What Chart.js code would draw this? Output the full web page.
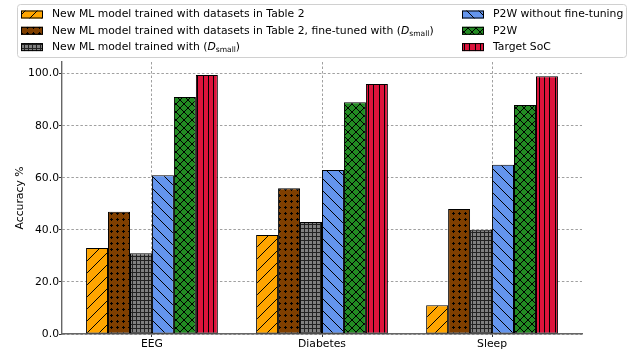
<!DOCTYPE html>
<html>
<head>
<meta charset="utf-8">
<script src="https://cdn.jsdelivr.net/npm/chart.js@4.4.1/dist/chart.umd.min.js"></script>
<style>
  html, body { margin: 0; padding: 0; background: #fff; }
  canvas { display: block; }
</style>
</head>
<body>
<canvas id="chart" width="630" height="352"></canvas>
<script>
// values
var categories = ['EEG', 'Diabetes', 'Sleep'];
var trainedTable2 = [33, 38, 11];
var fineTunedSmall = [47, 56, 48];
var trainedSmall = [31, 43, 40];
var p2wNoFineTune = [61, 63, 65];
var p2w = [91, 89, 88];
var targetSoC = [99.5, 96, 99];
var yTicks = [0, 20, 40, 60, 80, 100];

var FONT = 'DejaVu Sans';
var FS = 10.8;

var ctx = document.getElementById('chart').getContext('2d');

/** Builds a matplotlib-like hatch fill */
function hatch(color, kind) {
    var c = document.createElement('canvas');
    var d = { '/': 12, '\\': 12, 'x': 8, '|': 16, '+': 12, '.': 6 }[kind];
    c.width = d; c.height = d;
    var g = c.getContext('2d');
    g.fillStyle = color;
    g.fillRect(0, 0, d, d);
    g.strokeStyle = '#000';
    g.fillStyle = '#000';
    g.lineWidth = 1;
    g.beginPath();
    var k, i;
    if (kind === '/' || kind === 'x') {
        for (k = -1; k <= 1; k++) { g.moveTo(k * d, d); g.lineTo(k * d + d, 0); }
    }
    if (kind === '\\' || kind === 'x') {
        for (k = -1; k <= 1; k++) { g.moveTo(k * d, 0); g.lineTo(k * d + d, d); }
    }
    if (kind === '|' || kind === '+') {
        for (i = 0; i < 3; i++) {
            var p = Math.round(i * d / 3) + 0.5;
            g.moveTo(p, 0); g.lineTo(p, d);
            if (kind === '+') { g.moveTo(0, p); g.lineTo(d, p); }
        }
    }
    if (kind === '+') g.strokeStyle = '#222';
    g.stroke();
    if (kind === '.') {
        // small plus-shaped dot, like the rasterised matplotlib dots
        g.fillRect(2, 3, 3, 1);
        g.fillRect(3, 2, 1, 3);
    }
    return ctx.createPattern(c, 'repeat');
}

function points(values) {
    return values.map(function(v, i) { return { x: i, y: v }; });
}

var datasets = [
    { label: 'New ML model trained with datasets in Table 2', data: points(trainedTable2), backgroundColor: hatch('#ffa500', '/') },
    { label: 'New ML model trained with datasets in Table 2, fine-tuned with ($D_{small}$)', data: points(fineTunedSmall), backgroundColor: hatch('#7f3f00', '.') },
    { label: 'New ML model trained with ($D_{small}$)', data: points(trainedSmall), backgroundColor: hatch('#808080', '+') },
    { label: 'P2W without fine-tuning', data: points(p2wNoFineTune), backgroundColor: hatch('#6495ed', '\\') },
    { label: 'P2W', data: points(p2w), backgroundColor: hatch('#228b22', 'x') },
    { label: 'Target SoC', data: points(targetSoC), backgroundColor: hatch('#dc143c', '|') }
];
datasets.forEach(function(ds) {
    ds.borderColor = '#000';
    ds.borderWidth = 1;
    ds.borderSkipped = false;
});

/** Draws text, turning $D_{xxx}$ into an italic D with a subscript */
function drawRich(c, text, x, y) {
    var parts = text.split(/(\$D_\{\w+\}\$)/);
    c.textBaseline = 'middle';
    c.textAlign = 'left';
    parts.forEach(function(part) {
        var m = part.match(/^\$D_\{(\w+)\}\$$/);
        if (m) {
            c.font = 'italic ' + FS + 'px "' + FONT + '"';
            c.fillText('D', x, y);
            x += c.measureText('D').width;
            c.font = (FS * 0.7) + 'px "' + FONT + '"';
            c.fillText(m[1], x, y + 3);
            x += c.measureText(m[1]).width;
        } else {
            c.font = FS + 'px "' + FONT + '"';
            c.fillText(part, x, y);
            x += c.measureText(part).width;
        }
    });
}

var legendBox = {
    id: 'legendBox',
    afterDraw: function(chart) {
        var c = chart.ctx;
        c.save();
        c.beginPath();
        c.roundRect(17.5, 4.5, 609, 53, 3);
        c.fillStyle = 'rgba(255,255,255,0.8)';
        c.fill();
        c.strokeStyle = '#d0d0d0';
        c.lineWidth = 1;
        c.stroke();
        chart.data.datasets.forEach(function(ds, i) {
            var col = Math.floor(i / 3), row = i % 3;
            var hx = col ? 462 : 21;
            var cy = 14.5 + row * 16.3;
            c.fillStyle = ds.backgroundColor;
            c.fillRect(hx, cy - 4, 22, 8);
            c.strokeStyle = '#000';
            c.strokeRect(hx + 0.5, cy - 3.5, 21, 7);
            c.fillStyle = '#000';
            drawRich(c, ds.label, hx + 31, cy);
        });
        c.restore();
    }
};

var gridStyle = {
    offset: false,
    color: 'rgba(128,128,128,0.75)',
    lineWidth: 1,
    tickLength: 3,
    tickColor: '#333',
    tickWidth: 1,
    tickBorderDash: []
};
// in Chart.js v4 the grid-line dash lives on the border options
var borderStyle = { color: '#666', width: 1.4, dash: [2.5, 2] };

new Chart(ctx, {
    type: 'bar',
    data: { datasets: datasets },
    options: {
        responsive: false,
        animation: false,
        devicePixelRatio: 1,
        layout: { padding: { top: 62, right: 48, left: 0, bottom: 0 } },
        datasets: { bar: { categoryPercentage: 0.775, barPercentage: 1 } },
        plugins: { legend: { display: false }, tooltip: { enabled: false } },
        scales: {
            x: {
                type: 'linear',
                offset: false,
                min: -0.529,
                max: 2.529,
                afterBuildTicks: function(s) { s.ticks = categories.map(function(c, i) { return { value: i }; }); },
                afterFit: function(s) { s.height = 18; },
                ticks: {
                    callback: function(v) { return categories[v]; },
                    padding: 1,
                    color: '#000',
                    maxRotation: 0,
                    font: { family: FONT, size: FS }
                },
                grid: gridStyle,
                border: borderStyle
            },
            y: {
                min: 0,
                max: 104.475,
                afterBuildTicks: function(s) { s.ticks = yTicks.map(function(v) { return { value: v }; }); },
                afterFit: function(s) { s.width = 62; },
                ticks: {
                    callback: function(v) { return v.toFixed(1); },
                    padding: 0,
                    color: '#000',
                    font: { family: FONT, size: FS }
                },
                grid: gridStyle,
                border: borderStyle,
                title: {
                    display: true,
                    text: 'Accuracy %',
                    color: '#000',
                    font: { family: FONT, size: FS },
                    padding: { top: 14, bottom: 0 }
                }
            }
        }
    },
    plugins: [legendBox]
});
</script>
</body>
</html>
